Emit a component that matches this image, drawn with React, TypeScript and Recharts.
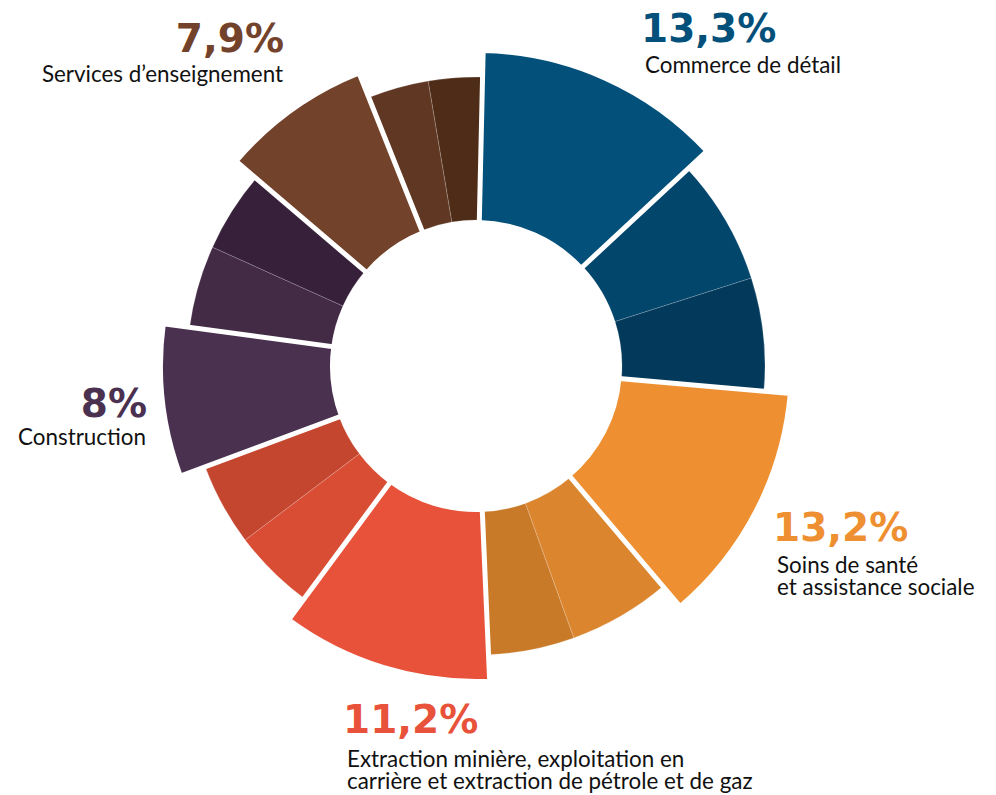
import { PieChart, Pie, Cell } from "recharts";

// five highlighted industries, each followed by two smaller unlabelled slices
const industries = [
  "Commerce de détail",
  "Soins de santé et assistance sociale",
  "Extraction minière, exploitation en carrière et extraction de pétrole et de gaz",
  "Construction",
  "Services d’enseignement",
];
const mainShare = [12.7, 12.4, 10.8, 7.8, 7.7];
const sideShareA = [7.0, 5.7, 4.6, 4.6, 3.4];
const sideShareB = [6.3, 4.8, 4.6, 4.5, 3.0];

const pctLabels = ["13,3%", "13,2%", "11,2%", "8%", "7,9%"];
const nameLines = [
  ["Commerce de détail"],
  ["Soins de santé", "et assistance sociale"],
  ["Extraction minière, exploitation en", "carrière et extraction de pétrole et de gaz"],
  ["Construction"],
  ["Services d’enseignement"],
];

const mainColors = ["#03507b", "#ee9031", "#e9523a", "#4b3150", "#73422b"];
const sideColorsA = ["#03466c", "#db862e", "#d84d34", "#432a45", "#5f3722"];
const sideColorsB = ["#033a5b", "#c97a28", "#c5462f", "#37203a", "#4e2c18"];

const slices = industries.flatMap((name, i) => [
  { name, part: "main", value: mainShare[i], color: mainColors[i] },
  { name, part: "a", value: sideShareA[i], color: sideColorsA[i] },
  { name, part: "b", value: sideShareB[i], color: sideColorsB[i] },
]);

// label anchor, and distance from the percentage baseline to the first text line
const labelPos = [
  { x: 641, y: 42, anchor: "start", gap: 31 },
  { x: 773, y: 541, anchor: "start", gap: 32 },
  { x: 343, y: 733, anchor: "start", gap: 34 },
  { x: 147, y: 417, anchor: "end", gap: 28 },
  { x: 284, y: 52, anchor: "end", gap: 30 },
];

const W = 996;
const H = 795;
const CX = 476;
const CY = 366;
const START = 88.7;

export default function App() {
  return (
    <div
      style={{
        position: "fixed",
        left: 0,
        top: 0,
        width: W,
        height: H,
        overflow: "hidden",
        background: "#fff",
      }}
    >
      <PieChart width={W} height={H} margin={{ top: 0, right: 0, bottom: 0, left: 0 }}>
        {/* small slices */}
        <Pie
          data={slices}
          dataKey="value"
          cx={CX}
          cy={CY}
          innerRadius={146}
          outerRadius={289}
          startAngle={START}
          endAngle={START - 360}
          isAnimationActive={false}
        >
          {slices.map((s, i) => (
            <Cell
              key={i}
              fill={s.part === "main" ? "none" : s.color}
              stroke={s.part === "main" ? "none" : "rgba(255,255,255,0.3)"}
              strokeWidth={0.6}
            />
          ))}
        </Pie>
        {/* highlighted slices, larger radius, white edge makes the gaps */}
        <Pie
          data={slices}
          dataKey="value"
          cx={CX}
          cy={CY}
          innerRadius={143.5}
          outerRadius={315.5}
          startAngle={START}
          endAngle={START - 360}
          isAnimationActive={false}
        >
          {slices.map((s, i) => (
            <Cell
              key={i}
              fill={s.part === "main" ? s.color : "none"}
              stroke={s.part === "main" ? "#fff" : "none"}
              strokeWidth={5}
              strokeLinejoin="miter"
            />
          ))}
        </Pie>
      </PieChart>
      <svg
        width={W}
        height={H}
        style={{ position: "absolute", left: 0, top: 0, pointerEvents: "none" }}
      >
        {labelPos.map((p, i) => (
          <g key={i}>
            <text
              x={p.x}
              y={p.y}
              textAnchor={p.anchor as any}
              fill={mainColors[i]}
              fontFamily="DejaVu Sans"
              fontWeight={700}
              fontSize={39}
            >
              {pctLabels[i]}
            </text>
            {nameLines[i].map((line, j) => (
              <text
                key={j}
                x={p.anchor === "start" ? p.x + 4 : p.x - 1}
                y={p.y + p.gap + j * 22}
                textAnchor={p.anchor as any}
                fill="#111"
                fontFamily="Lato"
                fontSize={22.4}
              >
                {line}
              </text>
            ))}
          </g>
        ))}
      </svg>
    </div>
  );
}
